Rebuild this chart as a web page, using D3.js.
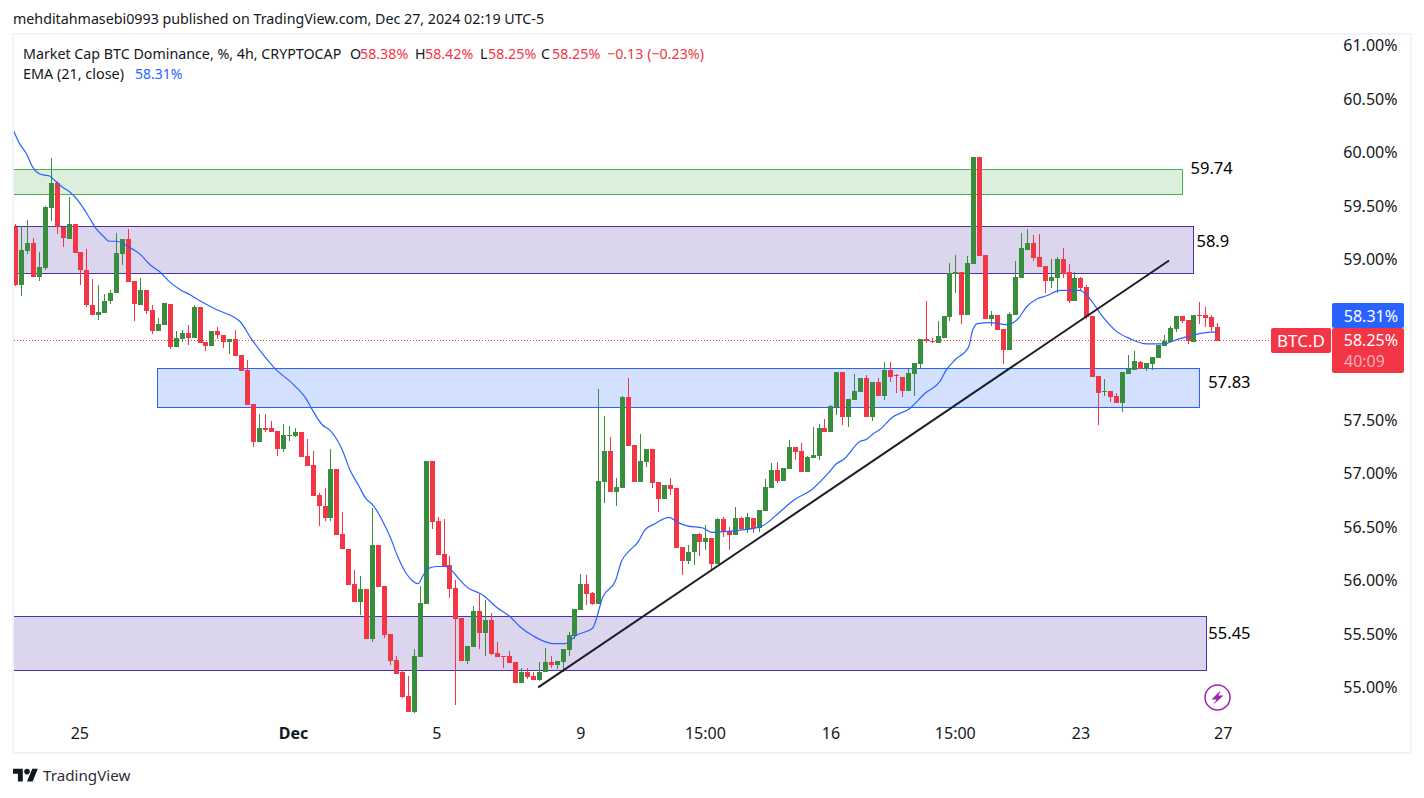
<!DOCTYPE html>
<html>
<head>
<meta charset="utf-8">
<title>BTC.D</title>
<script src="https://cdn.jsdelivr.net/npm/d3@7"></script>
<style>
  html, body { margin: 0; padding: 0; background: #fff; }
  text { font-family: "Noto Sans", "Open Sans", sans-serif; }
</style>
</head>
<body>
<div id="chart"></div>
<script>
// candles, 4h (percent)
var opens = [
  59.31,58.77,59.09,59.16,58.85,58.93,59.49,59.72,59.31,59.20,
  59.34,59.08,58.91,58.58,58.49,58.51,58.62,58.70,59.06,59.20,
  58.81,58.58,58.72,58.54,58.34,58.40,58.59,58.19,58.27,58.32,
  58.28,58.57,58.24,58.20,58.34,58.30,58.24,58.27,58.12,57.98,
  57.66,57.30,57.43,57.43,57.41,57.24,57.36,57.36,57.40,57.17,
  57.09,56.81,56.71,56.59,57.05,56.44,56.30,55.98,55.81,55.93,
  55.46,56.34,55.96,55.51,55.27,55.15,54.93,54.78,55.29,55.79,
  57.13,56.57,56.26,56.15,55.94,55.66,55.26,55.39,55.72,55.52,
  55.64,55.33,55.30,55.30,55.25,55.05,55.15,55.12,55.08,55.15,
  55.25,55.22,55.25,55.36,55.49,55.73,55.98,55.89,55.79,56.93,
  57.22,56.84,56.87,57.72,57.28,56.93,57.12,57.24,56.93,56.77,
  56.90,56.87,56.32,56.19,56.28,56.44,56.37,56.41,56.16,56.58,
  56.47,56.43,56.59,56.49,56.59,56.50,56.66,56.87,57.04,56.94,
  57.05,57.26,57.22,57.02,57.15,57.17,57.43,57.40,57.63,57.96,
  57.54,57.70,57.77,57.90,57.54,57.86,57.73,57.98,57.93,57.91,
  57.78,57.94,58.03,58.27,58.25,58.23,58.28,58.47,58.87,58.89,
  58.49,58.97,59.97,59.05,58.45,58.49,58.36,58.16,58.49,58.84,
  59.10,59.16,59.03,58.95,58.81,58.84,59.01,58.89,58.62,58.84,
  58.75,58.48,57.92,57.77,57.78,57.73,57.67,57.94,57.98,58.05,
  57.99,58.03,58.09,58.20,58.24,58.36,58.48,58.44,58.24,58.49,
  58.49,58.47,58.38
];
var highs = [
  59.34,59.32,59.38,59.21,59.08,59.51,59.96,59.74,59.31,59.59,
  59.34,59.08,59.11,58.83,58.77,58.69,58.72,59.26,59.20,59.29,
  58.81,58.84,58.72,58.58,58.46,58.60,58.59,58.34,58.35,58.40,
  58.58,58.57,58.24,58.34,58.38,58.30,58.27,58.35,58.12,58.07,
  57.66,57.57,57.57,57.50,57.41,57.47,57.45,57.43,57.40,57.33,
  57.22,56.83,56.87,57.24,57.05,56.65,56.30,56.11,56.05,55.93,
  56.69,56.34,55.96,55.51,55.30,55.17,55.12,55.37,55.96,57.13,
  57.13,56.60,56.58,56.24,56.01,55.66,55.40,55.77,55.88,55.83,
  55.71,55.43,55.30,55.35,55.25,55.19,55.19,55.15,55.25,55.38,
  55.30,55.26,55.37,55.53,55.74,56.07,56.06,55.90,57.80,57.55,
  57.35,56.97,57.73,57.90,57.28,57.38,57.24,57.24,56.93,56.90,
  56.97,56.87,56.32,56.34,56.44,56.45,56.53,56.41,56.59,56.60,
  56.51,56.70,56.60,56.64,56.59,56.67,56.96,57.11,57.12,57.06,
  57.32,57.26,57.29,57.17,57.44,57.47,57.52,57.65,57.96,57.96,
  57.71,57.94,57.90,57.93,57.86,57.90,58.05,58.05,57.94,57.91,
  57.99,58.04,58.27,58.62,58.28,58.43,58.48,58.98,59.05,58.89,
  59.04,59.97,59.97,59.05,58.53,58.49,58.36,58.52,59.00,59.26,
  59.29,59.24,59.25,58.95,59.01,59.03,59.12,58.97,58.89,58.85,
  58.77,58.48,57.92,57.89,57.78,57.76,57.96,58.12,58.15,58.06,
  58.04,58.10,58.21,58.30,58.39,58.48,58.48,58.44,58.49,58.61,
  58.57,58.49,58.42
];
var lows = [
  58.76,58.67,59.06,58.85,58.81,58.91,59.37,59.25,59.13,59.20,
  59.07,58.77,58.57,58.49,58.44,58.51,58.59,58.70,58.96,58.80,
  58.43,58.58,58.50,58.31,58.34,58.40,58.17,58.19,58.24,58.21,
  58.28,58.23,58.15,58.20,58.27,58.18,58.13,58.11,57.97,57.65,
  57.26,57.30,57.40,57.40,57.17,57.21,57.31,57.35,57.16,57.08,
  56.80,56.52,56.57,56.57,56.43,56.30,55.97,55.81,55.69,55.46,
  55.43,55.95,55.47,55.22,55.14,54.91,54.78,54.77,55.29,55.79,
  56.49,56.25,56.14,55.85,54.85,55.26,55.23,55.39,55.37,55.30,
  55.31,55.29,55.19,55.24,55.05,55.05,55.09,55.08,55.07,55.15,
  55.19,55.18,55.15,55.30,55.46,55.73,55.78,55.78,55.79,56.73,
  56.84,56.71,56.87,57.27,56.93,56.93,57.07,56.87,56.65,56.77,
  56.81,56.31,56.06,56.16,56.15,56.24,56.29,56.11,56.16,56.42,
  56.29,56.43,56.49,56.45,56.45,56.46,56.66,56.87,56.92,56.94,
  57.05,57.14,57.02,57.02,57.15,57.14,57.40,57.40,57.56,57.46,
  57.44,57.70,57.77,57.54,57.50,57.73,57.70,57.86,57.76,57.72,
  57.78,57.73,58.00,58.23,58.23,58.23,58.28,58.43,58.70,58.41,
  58.49,58.97,59.04,58.45,58.39,58.35,58.03,58.16,58.49,58.84,
  59.10,59.00,58.94,58.70,58.74,58.70,58.84,58.60,58.62,58.72,
  58.45,57.91,57.46,57.73,57.68,57.67,57.58,57.94,57.98,57.99,
  57.97,57.98,58.09,58.20,58.24,58.33,58.42,58.22,58.24,58.41,
  58.38,58.33,58.25
];
var closes = [
  58.77,59.10,59.16,58.85,58.94,59.50,59.72,59.31,59.21,59.34,
  59.07,58.91,58.58,58.49,58.52,58.62,58.70,59.07,59.20,58.80,
  58.59,58.72,58.53,58.34,58.41,58.60,58.19,58.28,58.32,58.28,
  58.57,58.23,58.20,58.34,58.30,58.24,58.27,58.11,57.97,57.65,
  57.30,57.43,57.42,57.40,57.24,57.37,57.37,57.40,57.16,57.08,
  56.80,56.71,56.59,57.05,56.43,56.30,55.97,55.81,55.93,55.46,
  56.34,55.95,55.50,55.26,55.14,54.92,54.78,55.30,55.80,57.13,
  56.56,56.25,56.14,55.93,55.65,55.26,55.40,55.72,55.52,55.64,
  55.32,55.29,55.29,55.24,55.05,55.15,55.11,55.08,55.15,55.25,
  55.22,55.26,55.37,55.50,55.74,55.98,55.88,55.79,56.94,57.22,
  56.84,56.88,57.72,57.27,56.93,57.13,57.24,56.92,56.77,56.90,
  56.86,56.31,56.19,56.28,56.44,56.37,56.41,56.16,56.58,56.46,
  56.43,56.59,56.49,56.60,56.50,56.67,56.88,57.04,56.94,57.06,
  57.26,57.21,57.02,57.16,57.18,57.43,57.40,57.64,57.96,57.54,
  57.71,57.78,57.90,57.54,57.86,57.73,57.98,57.91,57.92,57.78,
  57.95,58.04,58.27,58.25,58.24,58.29,58.48,58.88,58.89,58.49,
  58.98,59.97,59.04,58.45,58.49,58.35,58.16,58.50,58.85,59.12,
  59.16,59.02,58.94,58.81,58.85,59.01,58.87,58.62,58.84,58.74,
  58.47,57.91,57.76,57.78,57.72,57.67,57.96,57.99,58.06,57.99,
  58.04,58.10,58.21,58.25,58.37,58.48,58.43,58.25,58.49,58.48,
  58.46,58.38,58.25
];

// EMA (21, close), the vertices that could be read, at candle positions
var emaIndex = [
  -0.3,0.8,1.9,2.9,3.8,4.8,5.8,6.8,8.1,9.2,10.6,11.6,12.6,13.6,14.8,15.8,17.1,19,21,22.7,
  24.4,25.8,27.7,29.4,31.8,33.9,36.1,37.8,39.7,42,43.7,46.8,49,49.8,51.7,52.8,54.9,56.3,57.8,58.9,
  60.2,61.9,63,64.4,65.8,66.9,67.7,68.6,69.4,70.9,72.2,73.6,74.5,75.9,78.7,80.9,83.2,84.8,87.1,90.4,
  92.4,94.4,97,98.8,100.9,101.9,103.3,104.7,105.8,107.5,109.9,111.4,112.9,115.6,117,121.8,125.2,128.5,130.8,133.9,
  136.6,138,139.2,142,143.1,144.2,145.3,147.3,150.4,152.9,155.4,156.5,157.9,160.2,160.9,161.7,163.8,166.6,168.6,170,
  171.7,173.3,175.6,178.9,180.3,182.8,185,187.3,190.1,192.9,195.2,198.5,201,202.1
];
var emaValues = [
  60.22,60.09,60.00,59.88,59.82,59.80,59.79,59.74,59.68,59.64,59.56,59.48,59.39,59.30,59.23,59.18,59.18,59.13,59.06,58.96,
  58.89,58.81,58.73,58.68,58.60,58.54,58.49,58.43,58.27,58.10,57.99,57.84,57.70,57.62,57.46,57.42,57.24,57.04,56.89,56.78,
  56.71,56.55,56.42,56.22,56.07,56.00,55.98,56.06,56.12,56.14,56.14,56.09,56.03,55.95,55.87,55.76,55.67,55.58,55.49,55.42,
  55.42,55.50,55.56,55.86,56.01,56.19,56.29,56.37,56.48,56.54,56.60,56.55,56.52,56.50,56.46,56.48,56.51,56.65,56.76,56.86,
  57.01,57.10,57.14,57.31,57.33,57.38,57.42,57.53,57.62,57.76,57.87,57.98,58.07,58.19,58.35,58.41,58.42,58.40,58.46,58.57,
  58.64,58.67,58.72,58.72,58.66,58.47,58.34,58.27,58.22,58.22,58.26,58.31,58.33,58.33
];

// drawn zones: start/end candle, top/bottom price
var zoneStart = [-1, -1, 23.9, -1];
var zoneEnd = [196, 198, 199, 200.1];
var zoneTop = [59.85, 59.32, 57.99, 55.67];
var zoneBottom = [59.62, 58.88, 57.63, 55.17];
var zoneStroke = ["#4caf50", "#512da8", "#2962ff", "#512da8"];
var zoneFill = ["rgba(76,175,80,0.2)", "rgba(81,45,168,0.2)", "rgba(41,98,255,0.2)", "rgba(81,45,168,0.2)"];
var zoneLabels = ["59.74", "58.9", "57.83", "55.45"];
var zoneLabelIndex = [197.5, 198.5, 200.5, 200.5];
var zoneLabelPrice = [59.86, 59.18, 57.86, 55.52];

// trend line end points
var trendIndex = [87.9, 193.9];
var trendPrice = [55.01, 59.0];

var priceTicks = [55, 55.5, 56, 56.5, 57, 57.5, 59, 59.5, 60, 60.5, 61];
var timeTickIndex = [10.8, 46.7, 70.8, 95, 115.9, 137, 157.9, 179, 202.9];
var timeTickLabels = ["25", "Dec", "5", "9", "15:00", "16", "15:00", "23", "27"];

var lastPrice = 58.25;
var lastEma = 58.31;

var red = "#f23645", green = "#388e3c", ink = "#131722";

var svg = d3.select("#chart").append("svg")
  .attr("width", 1424).attr("height", 798).style("display", "block");

var x = d3.scaleLinear().domain([0, 202]).range([15, 1217.3]);
var y = d3.scaleLinear().domain([55, 61]).range([688.5, 46.5]);

function px(i) { return Math.round(x(i)); }

/* pane frame */
var frame = svg.append("g").attr("fill", "#f0f3fa");
frame.append("rect").attr("x", 12).attr("y", 33).attr("width", 1400).attr("height", 2);
frame.append("rect").attr("x", 12).attr("y", 752).attr("width", 1400).attr("height", 2);
frame.append("rect").attr("x", 12).attr("y", 33).attr("width", 2).attr("height", 721);
frame.append("rect").attr("x", 1410).attr("y", 33).attr("width", 2).attr("height", 721);

svg.append("clipPath").attr("id", "pane").append("rect")
  .attr("x", 14).attr("y", 35).attr("width", 1396).attr("height", 717);

var pane = svg.append("g").attr("clip-path", "url(#pane)");

/* zones go under the candles */
var zones = d3.range(zoneTop.length);
pane.selectAll("rect.zone").data(zones).enter().append("rect")
  .attr("class", "zone")
  .attr("x", function(i) { return px(zoneStart[i]) + 0.5; })
  .attr("y", function(i) { return Math.floor(y(zoneTop[i])) + 0.5; })
  .attr("width", function(i) { return px(zoneEnd[i]) - px(zoneStart[i]); })
  .attr("height", function(i) { return Math.floor(y(zoneBottom[i])) - Math.floor(y(zoneTop[i])); })
  .attr("fill", function(i) { return zoneFill[i]; })
  .attr("stroke", function(i) { return zoneStroke[i]; })
  .attr("stroke-width", 1);

/* last price line */
pane.append("line")
  .attr("x1", 14).attr("x2", 1272)
  .attr("y1", Math.floor(y(lastPrice)) + 0.5).attr("y2", Math.floor(y(lastPrice)) + 0.5)
  .attr("stroke", red).attr("stroke-width", 1).attr("stroke-dasharray", "1 2")
  .attr("shape-rendering", "crispEdges");

/* candles */
var candles = pane.selectAll("g.candle").data(d3.range(opens.length)).enter().append("g")
  .attr("class", "candle")
  .attr("shape-rendering", "crispEdges")
  .attr("fill", function(i) { return closes[i] >= opens[i] ? green : red; });

candles.append("rect")
  .attr("x", function(i) { return px(i); })
  .attr("width", 1)
  .attr("y", function(i) { return Math.round(y(highs[i])); })
  .attr("height", function(i) { return Math.max(1, Math.round(y(lows[i])) - Math.round(y(highs[i]))); });

candles.append("rect")
  .attr("x", function(i) { return px(i) - 2; })
  .attr("width", 5)
  .attr("y", function(i) { return Math.round(y(Math.max(opens[i], closes[i]))); })
  .attr("height", function(i) { return Math.max(1, Math.round(y(Math.min(opens[i], closes[i]))) - Math.round(y(Math.max(opens[i], closes[i])))); });

/* EMA */
var emaLine = d3.line()
  .x(function(i) { return x(emaIndex[i]); })
  .y(function(i) { return y(emaValues[i]); })
  .curve(d3.curveMonotoneX);

pane.append("path")
  .attr("d", emaLine(d3.range(emaIndex.length)))
  .attr("fill", "none").attr("stroke", "#2962ff").attr("stroke-width", 1.2);

/* trend line */
pane.append("line")
  .attr("x1", x(trendIndex[0])).attr("y1", y(trendPrice[0]))
  .attr("x2", x(trendIndex[1])).attr("y2", y(trendPrice[1]))
  .attr("stroke", "#1c1c24").attr("stroke-width", 2);

/* zone labels */
pane.selectAll("text.zone-label").data(zones).enter().append("text")
  .attr("class", "zone-label")
  .attr("x", function(i) { return x(zoneLabelIndex[i]); })
  .attr("y", function(i) { return y(zoneLabelPrice[i]); })
  .attr("dy", "0.35em")
  .attr("font-size", 16.5)
  .attr("fill", "#000")
  .text(function(i) { return zoneLabels[i]; });

/* price axis */
var priceAxis = d3.axisRight(y)
  .tickValues(priceTicks)
  .tickSize(0)
  .tickPadding(0)
  .tickFormat(function(d) { return d.toFixed(2) + "%"; });

var priceG = svg.append("g").attr("transform", "translate(1397.5,-1)").call(priceAxis);
priceG.select(".domain").remove();
priceG.selectAll("text")
  .attr("text-anchor", "end").attr("fill", ink)
  .style("font-family", "'Noto Sans'").style("font-size", "16px");

/* time axis */
var timeAxis = d3.axisBottom(x)
  .tickValues(timeTickIndex)
  .tickSize(0)
  .tickPadding(0)
  .tickFormat(function(d, i) { return timeTickLabels[i]; });

var timeG = svg.append("g").attr("transform", "translate(0,728)").call(timeAxis);
timeG.select(".domain").remove();
timeG.selectAll("text")
  .attr("fill", ink)
  .style("font-family", "'Noto Sans'").style("font-size", "16px")
  .style("font-weight", function(d, i) { return timeTickLabels[i] === "Dec" ? "700" : "400"; });

/* price tags */
function tag(x0, y0, w, h, color) {
  svg.append("rect").attr("x", x0).attr("y", y0).attr("width", w).attr("height", h)
    .attr("rx", 2).attr("fill", color);
}
tag(1271, 328, 60, 25, red);
tag(1332, 303, 72, 25, "#2962ff");
tag(1332, 328, 72, 45, red);

function tagText(x0, y0, anchor, str, color, size) {
  svg.append("text").attr("x", x0).attr("y", y0).attr("dy", "0.35em")
    .attr("text-anchor", anchor).attr("font-size", size).attr("fill", color).text(str);
}
tagText(1301, 341, "middle", "BTC.D", "#fff", 17);
tagText(1398, 316, "end", lastEma.toFixed(2) + "%", "#fff", 16);
tagText(1398, 340, "end", lastPrice.toFixed(2) + "%", "#fff", 16);
tagText(1344, 361.5, "start", "40:09", "rgba(255,255,255,0.6)", 16);

/* header */
svg.append("text").attr("x", 13).attr("y", 24).attr("font-size", 14.25).attr("fill", ink)
  .text("mehditahmasebi0993 published on TradingView.com, Dec 27, 2024 02:19 UTC-5");

var legendText = ["Market Cap BTC Dominance, %, 4h, CRYPTOCAP", "O", "58.38%", "H", "58.42%", "L", "58.25%", "C", "58.25%", "\u22120.13 (\u22120.23%)"];
var legendX = [23, 350, 360, 415, 425, 480, 488, 541, 552, 607];
var legendColor = [ink, ink, red, ink, red, ink, red, ink, red, red];
svg.selectAll("text.legend").data(legendText).enter().append("text")
  .attr("class", "legend")
  .attr("x", function(d, i) { return legendX[i]; })
  .attr("y", 59)
  .attr("font-size", 14.25)
  .attr("fill", function(d, i) { return legendColor[i]; })
  .text(function(d) { return d; });

svg.append("text").attr("x", 23).attr("y", 79).attr("font-size", 14.4).attr("fill", ink).text("EMA (21, close)");
svg.append("text").attr("x", 135).attr("y", 79).attr("font-size", 14).attr("fill", "#2962ff").text("58.31%");

/* lightning mark */
var bolt = svg.append("g").attr("transform", "translate(1217.5,697.5)");
bolt.append("circle").attr("r", 12.5).attr("fill", "none").attr("stroke", "#9c27b0").attr("stroke-width", 1.5);
bolt.append("path").attr("d", "M3 -7 L-6 2 L-1 2 L-4 7 L6 -2 L1 -2 Z").attr("fill", "#9c27b0");

/* footer logo */
var logo = svg.append("g").attr("transform", "translate(13,766) scale(0.7)").attr("fill", ink);
logo.append("path").attr("d", "M14 22H7V11H0V4h14v18zM28 22h-8l7.5-18h8L28 22z");
logo.append("circle").attr("cx", 20).attr("cy", 8).attr("r", 4);
svg.append("text").attr("x", 43).attr("y", 781).attr("font-size", 15.2).attr("fill", "#2a2e39").text("TradingView");
</script>
</body>
</html>
